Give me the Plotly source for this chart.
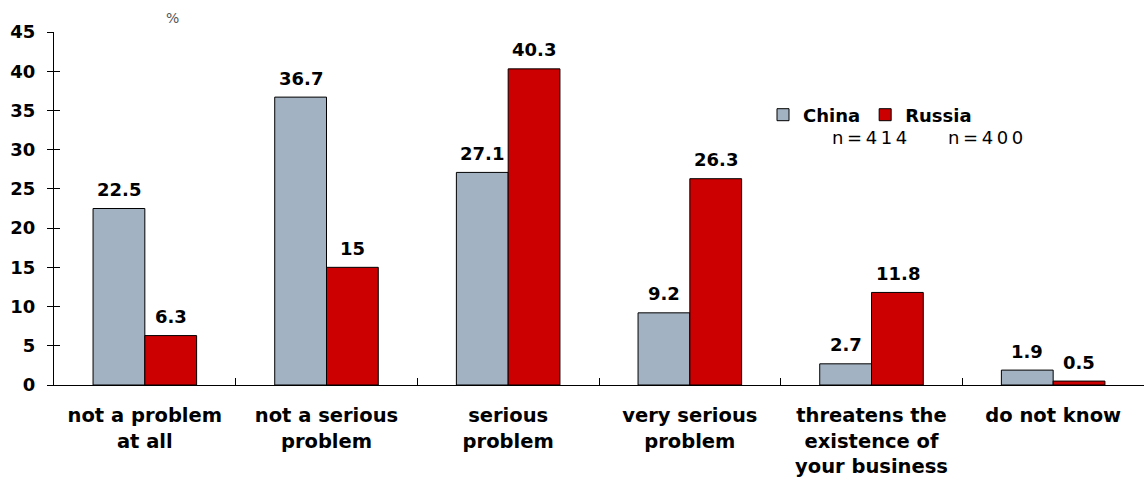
import plotly.graph_objects as go

categories = ["not a problem<br>at all", "not a serious<br>problem", "serious<br>problem",
              "very serious<br>problem", "threatens the<br>existence of<br>your business", "do not know"]
china = [22.5, 36.7, 27.1, 9.2, 2.7, 1.9]
russia = [6.3, 15, 40.3, 26.3, 11.8, 0.5]
china_labels = ["22.5", "36.7", "27.1", "9.2", "2.7", "1.9"]
russia_labels = ["6.3", "15", "40.3", "26.3", "11.8", "0.5"]
sample_sizes = ["n=414", "n=400"]

FONT = "DejaVu Sans, sans-serif"
fig = go.Figure()
fig.add_trace(go.Bar(name="<b>China</b>", x=categories, y=china,
                     marker=dict(color="#A3B2C2", line=dict(color="black", width=1))))
fig.add_trace(go.Bar(name="<b>Russia</b>", x=categories, y=russia,
                     marker=dict(color="#CC0000", line=dict(color="black", width=1))))
fig.add_trace(go.Scatter(x=[categories[0]], y=[0], yaxis="y2", mode="markers",
                         marker=dict(opacity=0), showlegend=False, hoverinfo="skip"))

annotations = []
for cat, v, t in zip(categories, china, china_labels):
    annotations.append(dict(x=cat, y=v, text=f"<b>{t}</b>", xref="x", yref="y", showarrow=False,
                            xshift=-26, yshift=19, font=dict(size=18, color="black", family=FONT)))
for cat, v, t in zip(categories, russia, russia_labels):
    annotations.append(dict(x=cat, y=v, text=f"<b>{t}</b>", xref="x", yref="y", showarrow=False,
                            xshift=26, yshift=19, font=dict(size=18, color="black", family=FONT)))

def spaced(s):
    return "&#8201;".join(s)

annotations.append(dict(text="%", x=(172 - 54) / 1090, y=(385 - 18) / 353, xref="paper", yref="paper",
                        xanchor="center", yanchor="middle", showarrow=False,
                        font=dict(size=14, color="#555555", family=FONT)))
annotations.append(dict(text=spaced(sample_sizes[0]), x=(869 - 54) / 1090, y=(385 - 137) / 353,
                        xref="paper", yref="paper", xanchor="center", yanchor="middle", showarrow=False,
                        font=dict(size=18, color="black", family=FONT)))
annotations.append(dict(text=spaced(sample_sizes[1]), x=(985 - 54) / 1090, y=(385 - 137) / 353,
                        xref="paper", yref="paper", xanchor="center", yanchor="middle", showarrow=False,
                        font=dict(size=18, color="black", family=FONT)))

fig.update_layout(
    width=1144, height=487,
    margin=dict(l=54, r=0, t=32, b=102),
    plot_bgcolor="white", paper_bgcolor="white",
    barmode="group", bargap=0.43, bargroupgap=0,
    font=dict(family=FONT, color="black"),
    showlegend=True,
    legend=dict(orientation="h", x=(763 - 54) / 1090, y=(385 - 115) / 353, xanchor="left", yanchor="middle",
                font=dict(size=18, color="black", family=FONT), bgcolor="rgba(0,0,0,0)",
                itemwidth=30, tracegroupgap=0),
    xaxis=dict(showline=True, linecolor="black", linewidth=1, ticks="inside", ticklen=7,
               tickson="boundaries", tickcolor="black", showgrid=False, ticklabelstandoff=13,
               tickfont=dict(size=19.5, family=FONT), tickprefix="<b>", ticksuffix="</b>"),
    yaxis=dict(range=[0, 45], dtick=5, showline=True, linecolor="black", linewidth=1,
               ticks="outside", ticklen=6, tickcolor="black", showgrid=False, zeroline=False,
               ticklabelstandoff=8,
               tickfont=dict(size=18, family=FONT), tickprefix="<b>", ticksuffix="</b>"),
    yaxis2=dict(range=[0, 45], dtick=5, overlaying="y", side="left", showline=False,
                ticks="inside", ticklen=6, tickcolor="black", showticklabels=False,
                showgrid=False, zeroline=False),
    annotations=annotations,
)
fig.write_html("out.html")
